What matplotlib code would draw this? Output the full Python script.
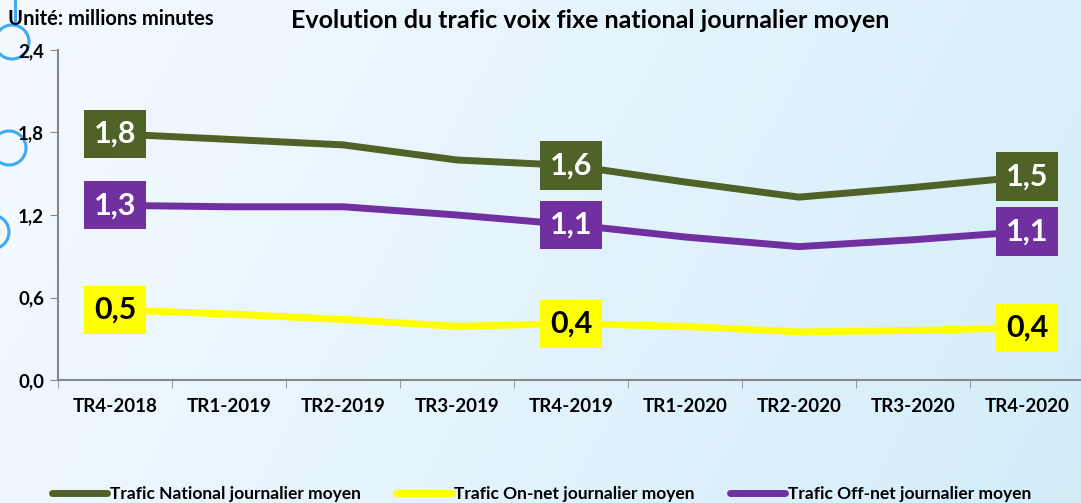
import numpy as np
import matplotlib
matplotlib.use("Agg")
import matplotlib.pyplot as plt
from matplotlib.patches import Circle

plt.rcParams['font.family'] = ['Lato', 'DejaVu Sans']

# Données (millions de minutes)
trimestres = ['TR4-2018', 'TR1-2019', 'TR2-2019', 'TR3-2019', 'TR4-2019',
              'TR1-2020', 'TR2-2020', 'TR3-2020', 'TR4-2020']
trafic_national = [1.79, 1.75, 1.71, 1.60, 1.56, 1.44, 1.33, 1.40, 1.48]
trafic_on_net = [0.51, 0.48, 0.44, 0.39, 0.41, 0.39, 0.35, 0.36, 0.38]
trafic_off_net = [1.27, 1.26, 1.26, 1.20, 1.13, 1.04, 0.97, 1.02, 1.08]
y_ticks = [0.0, 0.6, 1.2, 1.8, 2.4]
idx_etiquettes = [0, 4, 8]

vert = '#4F6228'
jaune = '#FFFF00'
violet = '#7030A0'

W, H = 1081, 503
fig = plt.figure(figsize=(W / 100, H / 100), dpi=100)

# Fond en dégradé bleu clair (coordonnées en pixels)
bg = fig.add_axes([0, 0, 1, 1], zorder=-10)
gx = np.linspace(0, 1, 256)
gy = np.linspace(0, 1, 64)
X, Y = np.meshgrid(gx, gy)
t = np.clip(0.8 * X + 0.2 * Y, 0, 1)
c0 = np.array([0.96, 0.98, 1.0])
c1 = np.array([0.83, 0.93, 0.98])
img = c0[None, None, :] * (1 - t[..., None]) + c1[None, None, :] * t[..., None]
bg.imshow(img, aspect='auto', extent=[0, W, H, 0])
bg.set_xlim(0, W)
bg.set_ylim(H, 0)
bg.axis('off')

# Cercles décoratifs à gauche
for cx, cy in [(12, 42), (9, 148), (-8, 232)]:
    bg.add_patch(Circle((cx, cy), 17, fill=False, ec='#3FA9F5', lw=2.2))
bg.plot([15, 15], [0, 25], color='#3FA9F5', lw=2.2)

ax = fig.add_axes([58 / W, 123 / H, 1026 / W, 330 / H])
ax.patch.set_alpha(0)

x = np.arange(len(trimestres))
series = [
    (trafic_national, vert, 'white', 'Trafic National journalier moyen'),
    (trafic_on_net, jaune, 'black', 'Trafic On-net journalier moyen'),
    (trafic_off_net, violet, 'white', 'Trafic Off-net journalier moyen'),
]
for valeurs, couleur, couleur_texte, nom in series:
    ax.plot(x, valeurs, color=couleur, lw=5, label=nom, solid_capstyle='round', zorder=2)
    for i in idx_etiquettes:
        ax.text(x[i], valeurs[i], f"{valeurs[i]:.1f}".replace('.', ','),
                ha='center', va='center', fontsize=22, fontweight='bold',
                color=couleur_texte, zorder=5,
                bbox=dict(boxstyle='square,pad=0.33', fc=couleur, ec='none'))

ax.set_xlim(-0.5, len(trimestres) - 0.5)
ax.set_ylim(0, 2.4)
ax.set_yticks(y_ticks)
ax.set_yticklabels([f"{v:.1f}".replace('.', ',') for v in y_ticks],
                   fontsize=13.5, fontweight='bold')
ax.set_xticks(x)
ax.set_xticklabels(trimestres, fontsize=13.5, fontweight='bold')
ax.set_xticks(np.arange(len(trimestres) + 1) - 0.5, minor=True)
ax.tick_params(axis='x', which='major', length=0, pad=13)
ax.tick_params(axis='x', which='minor', length=6, color='#888888', direction='out')
ax.tick_params(axis='y', length=6, color='#888888', pad=4)
for s in ['top', 'right']:
    ax.spines[s].set_visible(False)
for s in ['left', 'bottom']:
    ax.spines[s].set_color('#888888')
    ax.spines[s].set_linewidth(1.5)

fig.text(590 / W, 1 - 21 / H, 'Evolution du trafic voix fixe national journalier moyen',
         ha='center', va='center', fontsize=18, fontweight='bold')
fig.text(8 / W, 1 - 19 / H, 'Unité: millions minutes',
         ha='left', va='center', fontsize=14.5, fontweight='bold')

leg = fig.legend(loc='lower left', bbox_to_anchor=(38 / W, -0.026), ncol=3, frameon=False,
                 prop={'size': 12.5, 'weight': 'bold'}, handlelength=3.2,
                 handletextpad=0.17, columnspacing=2.0, borderpad=0.3)

fig.savefig('out.png', dpi=100)
